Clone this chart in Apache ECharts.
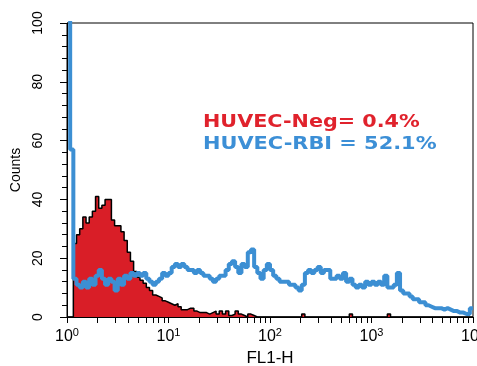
<!DOCTYPE html>
<html><head><meta charset="utf-8">
<script src="https://cdn.jsdelivr.net/npm/echarts@6/dist/echarts.min.js"></script>
<style>html,body{margin:0;padding:0;background:#fff}#c{width:477px;height:366px}</style>
</head><body><div id="c"></div>
<script>
// ---- data ----
const decadeTicks = [1, 10, 100, 1000, 10000];
const binsPerDecade = 32;            // histogram channels per decade (128 channels over 4 decades)
const negCounts = [
  0, 0, 25, 28, 30, 34, 32, 34, 36, 41,
  37, 38, 40, 40, 33, 31, 31, 29, 26, 22,
  19, 15.5, 13.5, 12.5, 11.5, 10, 9, 7.5, 7, 6.5,
  5.5, 5, 4.5, 4, 4.5, 3.5, 2.5, 2.5, 3, 3,
  2, 1.5, 1.5, 1.5, 1, 1.5, 2, 1, 2, 1,
  2, 0.5, 1, 2, 1, 0.5, 0, 1, 0.5, 0,
  0, 0, 0, 0, 0, 0, 0, 0, 0, 0,
  0, 0, 0, 0, 1, 0, 0, 0, 0, 0,
  0, 0, 0, 0, 0, 0, 0, 0, 0, 1,
  0, 0, 0, 0, 0, 0, 0, 0, 0, 0,
  0, 1, 0, 0, 0, 0, 0, 0, 0, 0,
  0, 0, 0, 0, 0, 0, 0, 0, 0, 0,
  0, 0, 0, 0, 0, 0, 0, 0
];
const rbiCounts = [
  130, 57, 13, 11, 10, 12, 10, 13, 11, 14,
  16, 13, 11, 13, 12, 9, 13, 11, 14, 13,
  15, 14, 15, 14, 15, 13, 12, 11, 12, 13,
  15, 14, 15, 17, 18, 17, 18, 17, 16, 16,
  15, 16, 15, 14, 14, 13, 12, 13, 14, 14,
  16, 18, 19, 17, 15, 18, 17, 22, 23, 17,
  15, 13, 16, 18, 16, 14, 13, 12, 12, 12,
  11, 11, 10, 9, 11, 15, 16, 15, 16, 17,
  15, 16, 16, 13, 13, 14, 13, 15, 12, 13,
  11, 10, 11, 10, 12, 11, 12, 11, 12, 11,
  14, 10, 10, 11, 15, 9, 8, 8, 7, 6,
  6, 5, 5, 4, 3.5, 3, 3, 3, 2.5, 3,
  2.5, 2, 2, 1.5, 1.5, 1, 1, 3
];
const negLabel = 'HUVEC-Neg= 0.4%';
const rbiLabel = 'HUVEC-RBI = 52.1%';
const xTitle = 'FL1-H';
const yTitle = 'Counts';

// ---- helpers ----
function binEdge(i) { return Math.pow(10, i / binsPerDecade); }
function toSteps(counts) {
  const pts = counts.map((v, i) => [binEdge(i), v]);
  pts.push([binEdge(counts.length), counts[counts.length - 1]]);
  return pts;
}
const tickValues = [];
for (let d = 0; d < 4; d++) for (let k = 1; k < 10; k++) tickValues.push(k * Math.pow(10, d));
tickValues.push(10000);

const FONT = 'Liberation Sans';
const chart = echarts.init(document.getElementById('c'), null, {renderer: 'canvas'});
chart.setOption({
  animation: false,
  backgroundColor: '#fff',
  grid: {left: 67, right: 4, top: 23, bottom: 49, containLabel: false, outerBoundsMode: 'none',
         show: true, borderColor: '#000', borderWidth: 1, backgroundColor: 'transparent'},
  xAxis: {
    type: 'log', logBase: 10, min: 1, max: 10000,
    axisLine: {lineStyle: {color: '#000', width: 1}},
    axisTick: {show: true, length: 6, customValues: tickValues, lineStyle: {color: '#000', width: 1}},
    axisLabel: {
      customValues: decadeTicks, margin: 10, hideOverlap: false, showMaxLabel: true, showMinLabel: true,
      formatter: v => '{b|10}{s|' + Math.round(Math.log10(v)) + '}',
      rich: {
        b: {fontSize: 16, fontFamily: FONT, color: '#000'},
        s: {fontSize: 11, fontFamily: FONT, color: '#000', padding: [0, 0, 9, 0]}
      }
    },
    splitLine: {show: false},
    name: xTitle, nameLocation: 'middle', nameGap: 33,
    nameTextStyle: {fontSize: 17, fontFamily: FONT, color: '#000'}
  },
  yAxis: {
    type: 'value', min: 0, max: 100, interval: 20,
    axisLine: {show: true, lineStyle: {color: '#000', width: 1}},
    axisTick: {show: true, length: 7, lineStyle: {color: '#000', width: 1}},
    minorTick: {show: true, splitNumber: 5, length: 5, lineStyle: {color: '#000', width: 1}},
    splitLine: {show: false},
    axisLabel: {rotate: 90, margin: 22, fontSize: 14, fontFamily: FONT, color: '#000'},
    name: yTitle, nameLocation: 'middle', nameGap: 44,
    nameTextStyle: {fontSize: 14, fontFamily: FONT, color: '#000'}
  },
  series: [
    {
      name: 'HUVEC-Neg', type: 'line', step: 'end', symbol: 'none', data: toSteps(negCounts),
      lineStyle: {color: '#000', width: 1.5},
      areaStyle: {color: '#d91e27', opacity: 1}
    },
    {
      name: 'HUVEC-RBI', type: 'line', step: 'end', symbol: 'none', data: toSteps(rbiCounts),
      lineStyle: {color: '#3c8fd3', width: 4}
    }
  ],
  graphic: [
    {type: 'text', x: 203, y: 122, scaleX: 1.15, style: {x: 0, y: 0, text: negLabel, fill: '#e0222c', font: 'bold 18px "DejaVu Sans"', verticalAlign: 'middle', align: 'left'}},
    {type: 'text', x: 203, y: 144, scaleX: 1.16, style: {x: 0, y: 0, text: rbiLabel, fill: '#3c8fd6', font: 'bold 18px "DejaVu Sans"', verticalAlign: 'middle', align: 'left'}}
  ]
});
</script>
</body></html>
